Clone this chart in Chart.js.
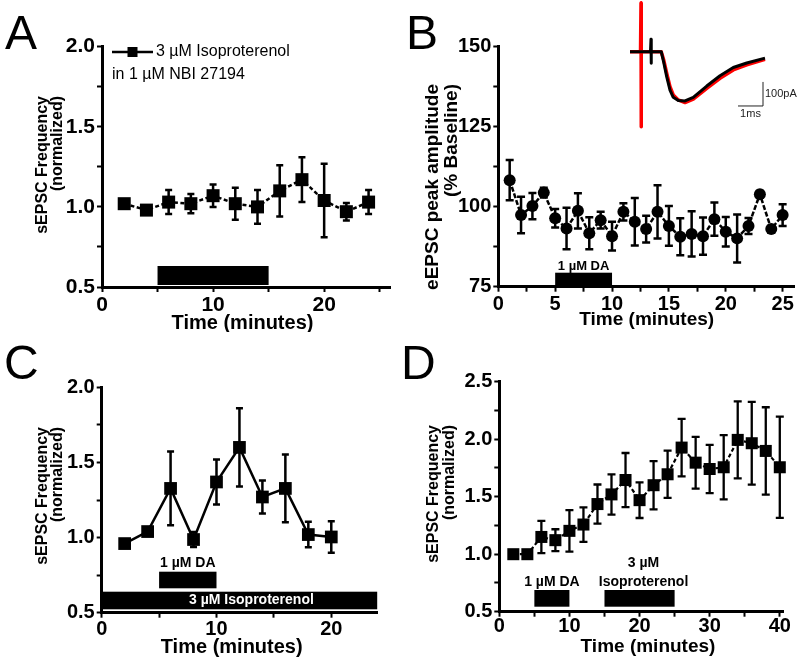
<!DOCTYPE html>
<html>
<head>
<meta charset="utf-8">
<script src="https://cdn.jsdelivr.net/npm/chart.js@4.4.0/dist/chart.umd.min.js"></script>
<style>
html,body{margin:0;padding:0;background:#fff;}
#wrap{position:relative;width:800px;height:664px;overflow:hidden;background:#fff;}
canvas{position:absolute;}
.letter{position:absolute;font-family:'Liberation Sans',Arial,sans-serif;font-size:48px;line-height:48px;color:#000;}
</style>
</head>
<body>
<div id="wrap">
<canvas id="cA" width="400" height="332" style="left:0;top:0"></canvas>
<canvas id="cB" width="400" height="332" style="left:400px;top:0"></canvas>
<canvas id="cC" width="400" height="332" style="left:0;top:332px"></canvas>
<canvas id="cD" width="400" height="332" style="left:400px;top:332px"></canvas>
<canvas id="cInset" width="180" height="130" style="left:620px;top:0"></canvas>
<div class="letter" style="left:5px;top:9px">A</div>
<div class="letter" style="left:406px;top:9px">B</div>
<div class="letter" style="left:4px;top:339px">C</div>
<div class="letter" style="left:401px;top:339px">D</div>
</div>
<script>
// ---------------- DATA ----------------
// Panel A: 3 µM Isoproterenol in 1 µM NBI 27194
const timeA = [2, 4, 6, 8, 10, 12, 14, 16, 18, 20, 22, 24];
const freqA = [1.02, 0.98, 1.03, 1.02, 1.07, 1.02, 1.00, 1.10, 1.17, 1.04, 0.97, 1.03];
const semA  = [0.02, 0.02, 0.075, 0.06, 0.07, 0.10, 0.105, 0.16, 0.14, 0.23, 0.055, 0.075];
const legendA = ['3 µM Isoproterenol', 'in 1 µM NBI 27194'];
const xTicksA = [0, 5, 10, 15, 20, 25];
const xMajorA = [0, 10, 20];
const yTicksA = [0.5, 0.75, 1.0, 1.25, 1.5, 1.75, 2.0];
const yMajorA = [0.5, 1.0, 1.5, 2.0];
const treatStartA = [5];
const treatEndA = [15];
const treatLabelA = [''];

// Panel B: eEPSC peak amplitude
const timeB = [1, 2, 3, 4, 5, 6, 7, 8, 9, 10, 11, 12, 13, 14, 15, 16, 17, 18, 19, 20, 21, 22, 23, 24, 25];
const ampB  = [108.3, 97.4, 100.2, 104.4, 96.4, 93.2, 98.7, 91.7, 95.8, 90.8, 98.4, 95.3, 93.0, 98.4, 94.0, 90.6, 91.5, 90.8, 96.1, 92.2, 90.1, 94.0, 103.9, 93.0, 97.4];
const semB  = [6.3, 5.7, 4.1, 1.5, 2.9, 6.5, 5.5, 5.0, 2.6, 4.5, 2.7, 7.4, 4.2, 8.3, 6.2, 5.8, 7.1, 5.8, 5.2, 4.6, 7.5, 2.5, 1.0, 1.0, 3.4];
const xTicksB = [0, 2.5, 5, 7.5, 10, 12.5, 15, 17.5, 20, 22.5, 25];
const xMajorB = [0, 5, 10, 15, 20, 25];
const yTicksB = [75, 87.5, 100, 112.5, 125, 137.5, 150];
const yMajorB = [75, 100, 125, 150];
const treatStartB = [5];
const treatEndB = [10];
const treatLabelB = ['1 µM DA'];

// Panel B inset: example eEPSC traces (ms, pA)
const traceTime  = [0, 0.42, 0.44, 0.44, 0.46, 0.82, 0.84, 0.84, 0.86, 1.25, 1.35, 1.47, 1.6, 1.73, 1.93, 2.2, 2.53, 3.07, 3.6, 4.13, 4.67, 5.4];
const traceBlack = [0, 0, 0, 0, 0, 0, 52, -48, 0, 0, -45, -105, -160, -190, -203, -205, -190, -143, -100, -66, -47, -27];
const traceRed   = [0, 0, 202, -312, 0, 0, 0, 0, 0, 0, -35, -90, -146, -180, -201, -212, -198, -153, -111, -76, -55, -32];
const scaleBarMs = 1;
const scaleBarPA = 100;
const scaleBarOrigin = [4.32, -226]; // (ms, pA)

// Panel C: DA in 3 µM Isoproterenol
const timeC = [2, 4, 6, 8, 10, 12, 14, 16, 18, 20];
const freqC = [0.96, 1.04, 1.327, 0.987, 1.37, 1.60, 1.27, 1.327, 1.02, 1.004];
const semC  = [0.02, 0.02, 0.245, 0.05, 0.15, 0.26, 0.11, 0.225, 0.085, 0.105];
const xTicksC = [0, 5, 10, 15, 20];
const xMajorC = [0, 10, 20];
const yTicksC = [0.5, 0.75, 1.0, 1.25, 1.5, 1.75, 2.0];
const yMajorC = [0.5, 1.0, 1.5, 2.0];
const treatStartC = [0, 5];
const treatEndC = [24, 10];
const treatLabelC = ['3 µM Isoproterenol', '1 µM DA'];

// Panel D: DA then 3 µM Isoproterenol
const timeD = [2, 4, 6, 8, 10, 12, 14, 16, 18, 20, 22, 24, 26, 28, 30, 32, 34, 36, 38, 40];
const freqD = [1.0, 1.0, 1.15, 1.122, 1.203, 1.258, 1.436, 1.52, 1.645, 1.47, 1.60, 1.695, 1.927, 1.796, 1.741, 1.756, 1.994, 1.965, 1.898, 1.756];
const semD  = [0.03, 0.03, 0.14, 0.095, 0.18, 0.15, 0.17, 0.175, 0.235, 0.155, 0.21, 0.205, 0.25, 0.225, 0.21, 0.28, 0.335, 0.36, 0.38, 0.44];
const xTicksD = [0, 5, 10, 15, 20, 25, 30, 35, 40];
const xMajorD = [0, 10, 20, 30, 40];
const yTicksD = [0.5, 0.75, 1.0, 1.25, 1.5, 1.75, 2.0, 2.25, 2.5];
const yMajorD = [0.5, 1.0, 1.5, 2.0, 2.5];
const treatStartD = [5, 15];
const treatEndD = [10, 25];
const treatLabelD = ['1 µM DA', '3 µM\nIsoproterenol'];

const xTitle = 'Time (minutes)';
const yTitleFreq = ['sEPSC Frequency', '(normalized)'];
const yTitleAmp = ['eEPSC peak amplitude', '(% Baseline)'];

// ---------------- PLUGINS ----------------
const FONT = "'Liberation Sans', Arial, Helvetica, sans-serif";
Chart.defaults.font.family = FONT;
Chart.defaults.color = '#000';

const errorBars = {
  id: 'errorBars',
  beforeDatasetsDraw(chart, args, o) {
    const ctx = chart.ctx;
    chart.data.datasets.forEach((ds, i) => {
      if (!ds.errors) return;
      const meta = chart.getDatasetMeta(i);
      const ys = chart.scales.y;
      ctx.save();
      ctx.strokeStyle = '#000';
      ctx.lineWidth = o.width || 2.5;
      ctx.lineCap = 'butt';
      meta.data.forEach((pt, j) => {
        const v = ds.data[j].y, e = ds.errors[j];
        const yT = ys.getPixelForValue(v + e), yB = ys.getPixelForValue(v - e);
        const c = o.cap || 4;
        ctx.beginPath();
        ctx.moveTo(pt.x, yT); ctx.lineTo(pt.x, yB);
        ctx.moveTo(pt.x - c, yT); ctx.lineTo(pt.x + c, yT);
        ctx.moveTo(pt.x - c, yB); ctx.lineTo(pt.x + c, yB);
        ctx.stroke();
      });
      ctx.restore();
    });
  }
};

const treatments = {
  id: 'treatments',
  afterDatasetsDraw(chart, args, o) {
    const ctx = chart.ctx, xs = chart.scales.x, area = chart.chartArea;
    (o.items || []).forEach(it => {
      const x0 = xs.getPixelForValue(it.from), x1 = xs.getPixelForValue(it.to);
      const yb = area.bottom - it.gap, yt = yb - it.height;
      ctx.save();
      ctx.fillStyle = '#000';
      ctx.fillRect(x0, yt, x1 - x0, it.height);
      if (it.label) {
        ctx.font = 'bold ' + it.fontSize + 'px ' + FONT;
        ctx.textAlign = 'center';
        ctx.textBaseline = 'middle';
        const cx = (x0 + x1) / 2 + (it.dx || 0);
        const lines = it.label.split('\n');
        if (it.inside) {
          ctx.fillStyle = '#fff';
          ctx.fillText(lines[0], cx, (yt + yb) / 2);
        } else {
          ctx.fillStyle = '#000';
          for (let k = 0; k < lines.length; k++) {
            const fromBottom = lines.length - 1 - k;
            ctx.fillText(lines[k], cx, yt - it.labelGap - fromBottom * it.lineStep);
          }
        }
      }
      ctx.restore();
    });
  }
};

const axisTitles = {
  id: 'axisTitles',
  afterDraw(chart, args, o) {
    const ctx = chart.ctx;
    ctx.save();
    ctx.fillStyle = '#000';
    ctx.textBaseline = 'middle';
    ctx.font = 'bold ' + o.xSize + 'px ' + FONT;
    ctx.textAlign = 'center';
    ctx.fillText(o.xText, o.xX, o.xY);
    ctx.font = 'bold ' + o.ySize + 'px ' + FONT;
    o.yText.forEach((line, i) => {
      ctx.save();
      ctx.translate(o.yX[i], o.yEnd);
      ctx.rotate(-Math.PI / 2);
      ctx.textAlign = 'right';
      ctx.fillText(line, 0, 0);
      ctx.restore();
    });
    ctx.restore();
  }
};

const legendBox = {
  id: 'legendBox',
  afterDraw(chart, args, o) {
    if (!o.display) return;
    const ctx = chart.ctx, ds = chart.data.datasets[0];
    ctx.save();
    ctx.strokeStyle = '#000'; ctx.lineWidth = 2.5;
    ctx.beginPath(); ctx.moveTo(o.x, o.y); ctx.lineTo(o.x + o.len, o.y); ctx.stroke();
    ctx.fillStyle = '#000';
    ctx.fillRect(o.x + o.len / 2 - 5, o.y - 5, 10, 10);
    ctx.font = o.size + 'px ' + FONT;
    ctx.textBaseline = 'middle'; ctx.textAlign = 'left';
    ctx.fillText(ds.label[0], o.x + o.len + 3, o.y);
    ctx.fillText(ds.label[1], o.x, o.y + o.step);
    ctx.restore();
  }
};

function buildTreat(starts, ends, labels, styles) {
  return starts.map((s, i) => Object.assign({ from: s, to: ends[i], label: labels[i] }, styles[i]));
}

function panel(id, p) {
  return new Chart(document.getElementById(id), {
    type: 'line',
    data: {
      datasets: [{
        label: p.label,
        data: p.x.map((t, i) => ({ x: t, y: p.y[i] })),
        errors: p.err,
        borderColor: '#000',
        backgroundColor: '#000',
        borderWidth: p.lineWidth,
        borderDash: p.dash,
        pointStyle: p.pointStyle,
        pointRadius: p.pointRadius,
        pointBackgroundColor: '#000',
        pointBorderColor: '#000',
        pointBorderWidth: 0,
        tension: 0,
        fill: false,
        clip: false
      }]
    },
    options: {
      responsive: false,
      animation: false,
      events: [],
      layout: { padding: { left: 0, top: p.area.top, right: 400 - p.area.right, bottom: p.area.padBottom } },
      plugins: {
        legend: { display: false },
        tooltip: { enabled: false },
        errorBars: { width: p.errWidth, cap: p.cap },
        treatments: { items: p.treat },
        axisTitles: p.titles,
        legendBox: p.legend || { display: false }
      },
      scales: {
        x: {
          type: 'linear', min: p.xMin, max: p.xMax,
          afterBuildTicks: s => { s.ticks = p.xTicks.map(v => ({ value: v })); },
          afterFit: s => { s.height = 332 - p.area.padBottom - p.area.bottom; },
          ticks: {
            autoSkip: false, maxRotation: 0, padding: p.xTickPad,
            font: { size: p.tickSize, weight: 'bold', lineHeight: 1 }, color: '#000',
            callback: v => p.xMajor.includes(v) ? String(v) : ''
          },
          grid: { display: true, drawOnChartArea: false, drawTicks: true, tickLength: 5, tickWidth: 2, tickColor: '#000' },
          border: { display: true, color: '#000', width: 3 },
          title: { display: false }
        },
        y: {
          type: 'linear', min: p.yMin, max: p.yMax,
          afterBuildTicks: s => { s.ticks = p.yTicks.map(v => ({ value: v })); },
          afterFit: s => { s.width = p.area.left; },
          ticks: {
            autoSkip: false, padding: 2,
            font: { size: p.tickSize, weight: 'bold', lineHeight: 1 }, color: '#000',
            callback: v => p.yMajor.includes(v) ? p.yFmt(v) : ''
          },
          grid: { display: true, drawOnChartArea: false, drawTicks: true, tickLength: 5, tickWidth: 2, tickColor: '#000' },
          border: { display: true, color: '#000', width: 3 },
          title: { display: false }
        }
      }
    },
    plugins: [errorBars, treatments, axisTitles, legendBox]
  });
}

const fmt1 = v => v.toFixed(1);

// Panel A
panel('cA', {
  label: legendA, x: timeA, y: freqA, err: semA,
  lineWidth: 2.5, dash: [4, 2.5], pointStyle: 'rect', pointRadius: 9.2, errWidth: 2.5, cap: 3.5,
  xMin: 0, xMax: 26, xTicks: xTicksA, xMajor: xMajorA, xTickPad: 3,
  yMin: 0.5, yMax: 2.0, yTicks: yTicksA, yMajor: yMajorA, yFmt: fmt1,
  tickSize: 21,
  area: { left: 102, right: 398, top: 46.7, bottom: 287, padBottom: 0 },
  treat: buildTreat(treatStartA, treatEndA, treatLabelA, [{ gap: 2, height: 19 }]),
  titles: { xText: xTitle, xSize: 20, xX: 242.5, xY: 323, yText: yTitleFreq, ySize: 16, yX: [43, 58], yEnd: 96 },
  legend: { display: true, x: 112, y: 52, len: 41, size: 16, step: 23 }
});

// Panel B
panel('cB', {
  label: 'eEPSC', x: timeB, y: ampB, err: semB,
  lineWidth: 2.5, dash: [5, 2], pointStyle: 'circle', pointRadius: 6, errWidth: 2.5, cap: 4,
  xMin: 0, xMax: 26, xTicks: xTicksB, xMajor: xMajorB, xTickPad: 3,
  yMin: 75, yMax: 150, yTicks: yTicksB, yMajor: yMajorB, yFmt: v => String(v),
  tickSize: 20,
  area: { left: 98.3, right: 396.7, top: 46.7, bottom: 286.7, padBottom: 3 },
  treat: buildTreat(treatStartB, treatEndB, treatLabelB, [{ gap: 1.7, height: 12.3, fontSize: 13, labelGap: 6, lineStep: 16 }]),
  titles: { xText: xTitle, xSize: 19, xX: 246.7, xY: 320, yText: yTitleAmp, ySize: 19, yX: [33, 52], yEnd: 84 }
});

// Panel C
panel('cC', {
  label: 'C', x: timeC, y: freqC, err: semC,
  lineWidth: 2.5, dash: [], pointStyle: 'rect', pointRadius: 9, errWidth: 2.5, cap: 3.5,
  xMin: 0, xMax: 24, xTicks: xTicksC, xMajor: xMajorC, xTickPad: 2,
  yMin: 0.5, yMax: 2.0, yTicks: yTicksC, yMajor: yMajorC, yFmt: fmt1,
  tickSize: 20,
  area: { left: 101.7, right: 377.2, top: 55.3, bottom: 280.7, padBottom: 7 },
  treat: buildTreat(treatStartC, treatEndC, treatLabelC, [
    { gap: 3.4, height: 17.6, fontSize: 14, inside: true, dx: 12 },
    { gap: 24.4, height: 16.6, fontSize: 14, labelGap: 8.4, lineStep: 18 }
  ]),
  titles: { xText: xTitle, xSize: 20, xX: 231.7, xY: 315, yText: yTitleFreq, ySize: 16, yX: [42.7, 57.5], yEnd: 95 }
});

// Panel D
panel('cD', {
  label: 'D', x: timeD, y: freqD, err: semD,
  lineWidth: 2.2, dash: [4, 2.5], pointStyle: 'rect', pointRadius: 8.5, errWidth: 2.3, cap: 4,
  xMin: 0, xMax: 40.5, xTicks: xTicksD, xMajor: xMajorD, xTickPad: 0,
  yMin: 0.5, yMax: 2.5, yTicks: yTicksD, yMajor: yMajorD, yFmt: fmt1,
  tickSize: 20,
  area: { left: 99.3, right: 383.3, top: 49.7, bottom: 279.7, padBottom: 7.8 },
  treat: buildTreat(treatStartD, treatEndD, treatLabelD, [
    { gap: 5, height: 16.7, fontSize: 14, labelGap: 8.3, lineStep: 18.4 },
    { gap: 5, height: 16.7, fontSize: 14, labelGap: 8.3, lineStep: 18.4, dx: 4 }
  ]),
  titles: { xText: xTitle, xSize: 19, xX: 248, xY: 314.7, yText: yTitleFreq, ySize: 16, yX: [34, 50], yEnd: 93 }
});

// Inset traces
const scaleBarLabels = {
  id: 'scaleBarLabels',
  afterDraw(chart) {
    const ctx = chart.ctx, xs = chart.scales.x, ys = chart.scales.y;
    const xL = xs.getPixelForValue(scaleBarOrigin[0]);
    const xR = xs.getPixelForValue(scaleBarOrigin[0] + scaleBarMs);
    const yB = ys.getPixelForValue(scaleBarOrigin[1]);
    const yT = ys.getPixelForValue(scaleBarOrigin[1] + scaleBarPA);
    ctx.save();
    ctx.fillStyle = '#222';
    ctx.font = '11px ' + FONT;
    ctx.textBaseline = 'middle';
    ctx.textAlign = 'left';
    ctx.fillText(scaleBarPA + 'pA', xR + 2, (yT + yB) / 2);
    ctx.textAlign = 'center';
    ctx.fillText(scaleBarMs + 'ms', (xL + xR) / 2, yB + 8);
    ctx.restore();
  }
};

new Chart(document.getElementById('cInset'), {
  type: 'line',
  data: {
    datasets: [
      { data: traceTime.map((t, i) => ({ x: t, y: traceBlack[i] })), borderColor: '#000', borderWidth: 3, pointRadius: 0, tension: 0, borderJoinStyle: 'round' },
      { data: traceTime.map((t, i) => ({ x: t, y: traceRed[i] })), borderColor: '#ff0000', borderWidth: 3.5, pointRadius: 0, tension: 0, borderJoinStyle: 'round' },
      { data: [
          { x: scaleBarOrigin[0], y: scaleBarOrigin[1] },
          { x: scaleBarOrigin[0] + scaleBarMs, y: scaleBarOrigin[1] },
          { x: scaleBarOrigin[0] + scaleBarMs, y: scaleBarOrigin[1] + scaleBarPA }
        ], borderColor: '#222', borderWidth: 1, pointRadius: 0, tension: 0 }
    ]
  },
  options: {
    responsive: false, animation: false, events: [],
    layout: { padding: 0 },
    plugins: { legend: { display: false }, tooltip: { enabled: false } },
    scales: {
      x: { type: 'linear', display: false, min: -0.4, max: 6.8 },
      y: { type: 'linear', display: false, min: -326, max: 215 }
    }
  },
  plugins: [scaleBarLabels]
});
</script>
</body>
</html>
